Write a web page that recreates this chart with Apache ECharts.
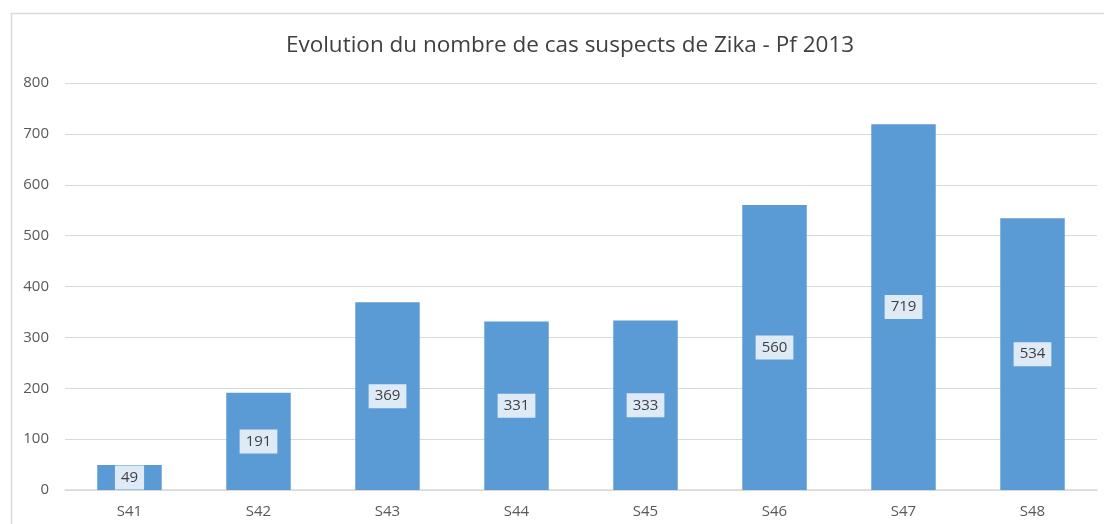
<!DOCTYPE html>
<html>
<head>
<meta charset="utf-8">
<style>
	html, body { margin: 0; padding: 0; background: #fff; }
	#chart { width: 1104px; height: 524px; }
</style>
<script src="https://cdn.jsdelivr.net/npm/echarts@6/dist/echarts.min.js"></script>
</head>
<body>
<div id="chart"></div>
<script>
// semaines
var weeks = ['S41', 'S42', 'S43', 'S44', 'S45', 'S46', 'S47', 'S48']
// cas suspects par semaine
var cases = [49, 191, 369, 331, 333, 560, 719, 534]

var chart = echarts.init(document.getElementById('chart'))
chart.setOption({
	animation: false,
	textStyle: {
		fontFamily: 'Open Sans'
	},
	graphic: [{
		type: 'rect',
		shape: { x: 11.5, y: 13.5, width: 1120, height: 540 },
		style: { fill: 'none', stroke: '#d9d9d9', lineWidth: 1.5 },
		silent: true
	}],
	title: {
		text: 'Evolution du nombre de cas suspects de Zika - Pf 2013',
		left: 565,
		top: 29,
		textAlign: 'center',
		textStyle: {
			color: '#404040',
			fontWeight: 'normal',
			fontSize: 22.5,
			fontFamily: 'Open Sans'
		}
	},
	grid: {
		left: 65,
		right: 7,
		top: 83,
		bottom: 34,
		containLabel: false
	},
	xAxis: {
		type: 'category',
		data: weeks,
		axisTick: { show: false },
		axisLine: {
			lineStyle: { color: '#d9d9d9', width: 1.5 }
		},
		axisLabel: {
			color: '#595959',
			fontSize: 15,
			margin: 14
		}
	},
	yAxis: {
		type: 'value',
		min: 0,
		max: 800,
		interval: 100,
		axisLine: { show: false },
		axisTick: { show: false },
		splitLine: {
			lineStyle: { color: '#d9d9d9', width: 1 }
		},
		axisLabel: {
			color: '#595959',
			fontSize: 15,
			margin: 16
		}
	},
	series: [{
		type: 'bar',
		data: cases,
		barWidth: '50%',
		itemStyle: {
			color: '#5b9bd5'
		},
		label: {
			show: true,
			position: 'inside',
			color: '#404040',
			fontSize: 15,
			backgroundColor: '#deebf7',
			padding: [5, 6, 4, 6]
		}
	}]
})
</script>
</body>
</html>
